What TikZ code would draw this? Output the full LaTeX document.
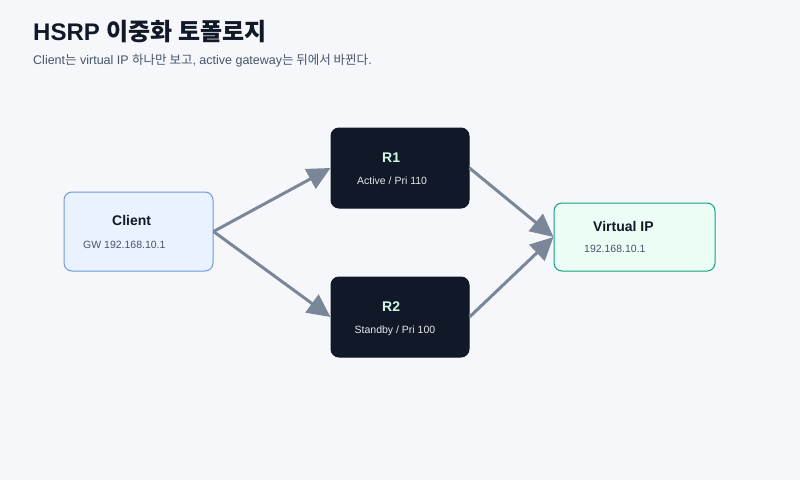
\documentclass[tikz,border=0pt]{standalone}
\usepackage{fontspec}
\setmainfont{Liberation Sans}
\newfontfamily\kr{Noto Sans CJK KR}
\usetikzlibrary{arrows.meta}
\definecolor{bgc}{HTML}{F6F7FB}
\definecolor{titlec}{HTML}{111827}
\definecolor{subc}{HTML}{475569}
\definecolor{darkbox}{HTML}{111827}
\definecolor{clientfill}{HTML}{EAF2FF}
\definecolor{clientdraw}{HTML}{6E9BE0}
\definecolor{vipfill}{HTML}{ECFDF5}
\definecolor{vipdraw}{HTML}{11A07F}
\definecolor{arrowc}{HTML}{7B8798}
\definecolor{mint}{HTML}{D1FAE5}
\definecolor{lightt}{HTML}{E5E7EB}
\tikzset{
  boxbase/.style={rectangle, rounded corners=8pt, inner sep=0pt, line width=1pt},
  clientbox/.style={boxbase, fill=clientfill, draw=clientdraw},
  routerbox/.style={boxbase, fill=darkbox, draw=darkbox},
  vipbox/.style={boxbase, fill=vipfill, draw=vipdraw},
  boxtitle/.style={anchor=base west, inner sep=0pt, font=\fontsize{14}{16}\selectfont\bfseries},
  boxsub/.style={anchor=base west, inner sep=0pt, font=\fontsize{10.5}{12}\selectfont},
  link/.style={draw=arrowc, line width=3pt, -{Triangle[length=23pt,width=22pt]}}
}
\begin{document}
\begin{tikzpicture}[x=1pt,y=-1pt]
\fill[bgc] (0,0) rectangle (800,480);
\useasboundingbox (0,0) rectangle (800,480);
% title
\node[anchor=base west, inner sep=0pt, text=titlec, font=\fontsize{24}{28}\selectfont\bfseries] (title) at (33,40) {HSRP {\kr\bfseries 이중화 토폴로지}};
\node[anchor=base west, inner sep=0pt, text=subc, font=\fontsize{12.5}{15}\selectfont] (subtitle) at (33,64) {Client{\kr 는} virtual IP {\kr 하나만 보고}, active gateway{\kr 는 뒤에서 바뀐다}.};
% boxes
\node[clientbox, minimum width=149pt, minimum height=79pt] (client) at (138.5,231.5) {};
\node[routerbox, minimum width=138pt, minimum height=80pt] (r1) at (400,168) {};
\node[routerbox, minimum width=138pt, minimum height=80pt] (r2) at (400,317) {};
\node[vipbox, minimum width=161pt, minimum height=68pt] (vip) at (634.5,237) {};
% labels
\node[boxtitle, text=titlec] (clientt) at (112,225) {Client};
\node[boxsub, text=subc] (clients) at (83,248) {GW 192.168.10.1};
\node[boxtitle, text=mint] (r1t) at (382,162) {R1};
\node[boxsub, text=lightt] (r1s) at (357,184) {Active / Pri 110};
\node[boxtitle, text=mint] (r2t) at (382,311) {R2};
\node[boxsub, text=lightt] (r2s) at (354.5,333) {Standby / Pri 100};
\node[boxtitle, text=titlec] (vipt) at (593,231) {Virtual IP};
\node[boxsub, text=subc] (vips) at (584,252) {192.168.10.1};
% links
\draw[link] (client.east) -- (r1.west);
\draw[link] (client.east) -- (r2.west);
\draw[link] (r1.east) -- (vip.west);
\draw[link] (r2.east) -- (vip.west);
\end{tikzpicture}
\end{document}
